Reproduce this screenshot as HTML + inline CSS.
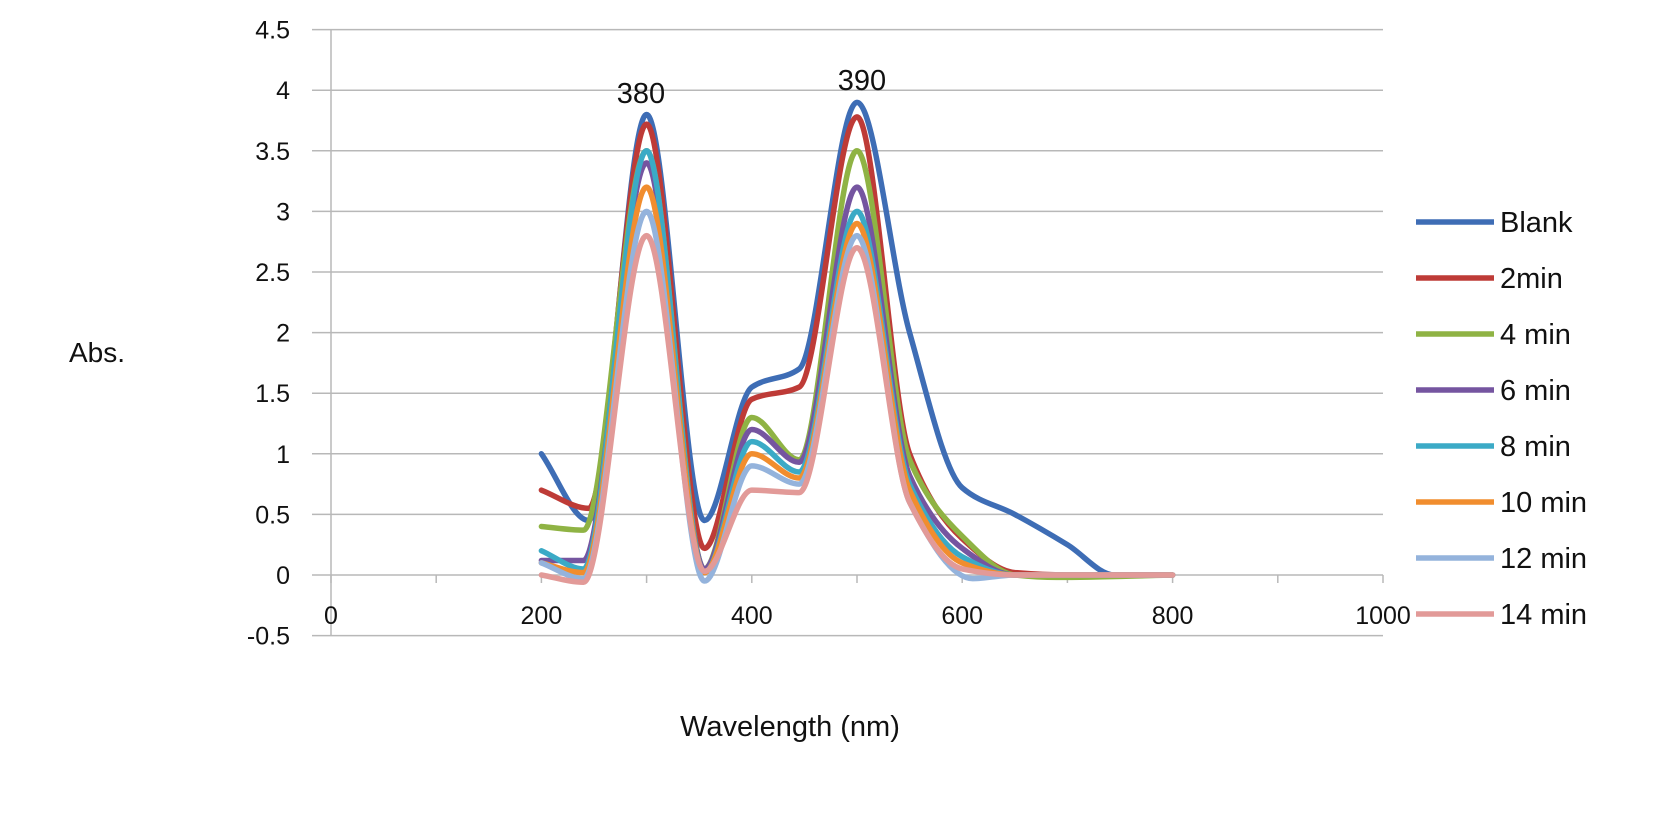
<!DOCTYPE html>
<html><head><meta charset="utf-8"><style>
body{margin:0;background:#fff;}
svg text{font-family:"Liberation Sans",sans-serif;fill:#111;}
</style></head><body>
<svg id="s" width="1654" height="834" xmlns="http://www.w3.org/2000/svg">
<g id="grid" stroke="#b8b8b8" stroke-width="1.5"></g>
<g id="lab" font-size="25"></g>
<g id="ser" fill="none" stroke-width="5.5" stroke-linejoin="round" stroke-linecap="round"></g>
<g id="leg" font-size="29"></g>
<text x="69" y="362" font-size="28">Abs.</text>
<text x="790" y="736" font-size="29" text-anchor="middle">Wavelength (nm)</text>
<text x="641" y="103" font-size="29" text-anchor="middle">380</text>
<text x="862" y="90" font-size="29" text-anchor="middle">390</text>
</svg>
<script>
const X=v=>331+v*1.052, Y=v=>575-v*121.2;
const ns="http://www.w3.org/2000/svg";
function el(p,t,a,txt){const e=document.createElementNS(ns,t);for(const k in a)e.setAttribute(k,a[k]);if(txt!=null)e.textContent=txt;document.getElementById(p).appendChild(e);}
for(let i=0;i<=10;i++){const v=4.5-i*0.5,y=Y(v);el('grid','line',{x1:312,x2:1383,y1:y,y2:y});
el('lab','text',{x:290,y:y+9,'text-anchor':'end'},String(v));}
el('grid','line',{x1:331,x2:331,y1:Y(4.5),y2:Y(-0.5)});
for(let i=0;i<=10;i++){const x=X(i*100);el('grid','line',{x1:x,x2:x,y1:575,y2:583});
if(i%2==0)el('lab','text',{x:x,y:624,'text-anchor':'middle'},String(i*100));}
const S=[
["Blank","#3E6DB5",[[200,1],[245,0.45],[300,3.8],[355,0.45],[400,1.55],[445,1.7],[500,3.9],[550,2],[600,0.72],[650,0.5],[700,0.25],[745,0],[800,0]]],
["2min","#BE3B37",[[200,0.7],[245,0.55],[300,3.72],[355,0.22],[400,1.45],[445,1.55],[500,3.78],[550,1.0],[600,0.3],[650,0.02],[700,0],[800,0]]],
["4 min","#8FB344",[[200,0.4],[240,0.37],[300,3.5],[355,0.05],[400,1.3],[445,0.95],[500,3.5],[550,0.95],[600,0.32],[650,0.0],[690,-0.02],[800,0]]],
["6 min","#7555A0",[[200,0.12],[240,0.12],[300,3.4],[355,0.05],[400,1.2],[445,0.93],[500,3.2],[550,0.82],[600,0.22],[650,0],[800,0]]],
["8 min","#3BAAC6",[[200,0.2],[240,0.05],[300,3.5],[355,0.02],[400,1.1],[445,0.85],[500,3.0],[550,0.75],[600,0.15],[650,0],[800,0]]],
["10 min","#F18D2E",[[200,0.1],[240,0.02],[300,3.2],[355,0.02],[400,1.0],[445,0.8],[500,2.9],[550,0.7],[600,0.1],[650,0],[800,0]]],
["12 min","#94B3DC",[[200,0.1],[240,-0.03],[300,3.0],[355,-0.05],[400,0.9],[445,0.75],[500,2.8],[550,0.6],[610,-0.03],[650,0],[800,0]]],
["14 min","#E29A98",[[200,0],[240,-0.06],[300,2.8],[355,0.03],[400,0.7],[445,0.68],[500,2.7],[550,0.6],[600,0.05],[650,0],[800,0]]]];
S.forEach((s,i)=>{const p=s[2].map(q=>[X(q[0]),Y(q[1])]);const n=p.length;
const sec=[];for(let k=0;k<n-1;k++)sec.push((p[k+1][1]-p[k][1])/(p[k+1][0]-p[k][0]));
const m=[];for(let k=0;k<n;k++){if(k==0)m.push(sec[0]);else if(k==n-1)m.push(sec[n-2]);
else if(sec[k-1]*sec[k]<=0)m.push(0);else{const a=sec[k-1],b=sec[k];m.push(2*a*b/(a+b));}}
let d="M"+p[0];
for(let k=0;k<n-1;k++){const h=(p[k+1][0]-p[k][0])/3;
d+=" C"+[p[k][0]+h,p[k][1]+m[k]*h]+" "+[p[k+1][0]-h,p[k+1][1]-m[k+1]*h]+" "+p[k+1];}
el('ser','path',{d:d,stroke:s[1]});
const y=222+i*56;el('leg','line',{x1:1416,x2:1494,y1:y,y2:y,stroke:s[1],'stroke-width':5.5});
el('leg','text',{x:1500,y:y+10},s[0]);});
</script>
</body></html>
